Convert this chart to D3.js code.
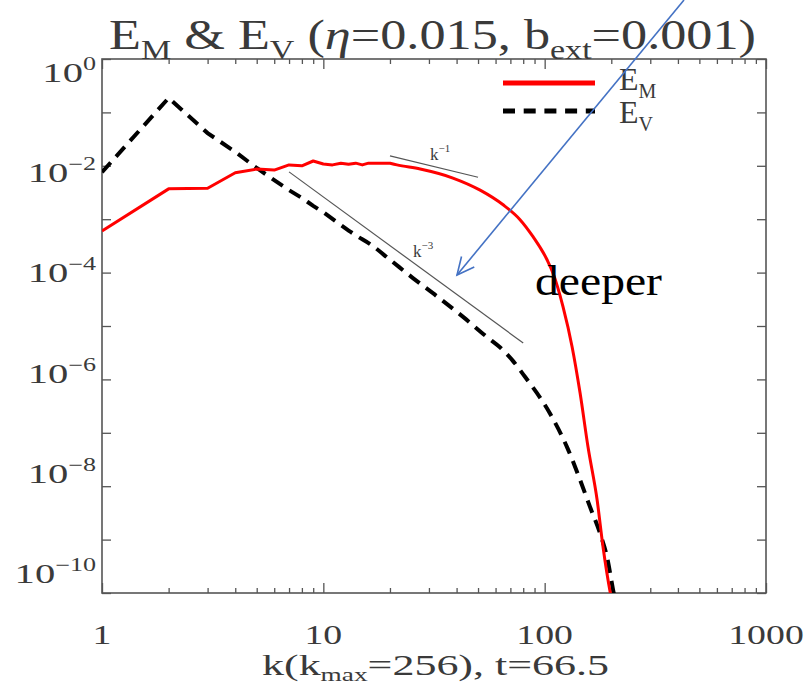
<!DOCTYPE html>
<html><head><meta charset="utf-8">
<script src="https://cdn.jsdelivr.net/npm/d3@7"></script>
<style>body{margin:0;background:#fff}svg{display:block}</style>
</head><body><svg id="c" width="807" height="689"></svg>
<script>
// ---- data ----
const kM = [1,2,3,4,5,6,7,8,9,10,11,12,13,14,15,16,18,20,21.5,27.4,38.5,51.1,64.9,77.4,88.6,102.5,109,121,133,144.5,157,172.6,183.6,197.6,205];
const EM = [6.0e-4,3.7e-3,3.8e-3,7.4e-3,8.7e-3,8.3e-3,1.04e-2,1.0e-2,1.23e-2,1.08e-2,1.04e-2,1.12e-2,1.07e-2,1.12e-2,1.04e-2,1.12e-2,1.12e-2,1.12e-2,1.04e-2,8.7e-3,5.9e-3,3.5e-3,1.86e-3,9.8e-4,4.7e-4,1.74e-4,9.8e-5,2.3e-5,4.1e-6,5.6e-7,5.4e-8,5.5e-9,7.2e-10,1.05e-10,5e-11];
const kV = [1,2,3,4,5,6,7,8,8.5,9,10,12,14,16.3,20,25.4,32.6,42.8,54.9,62.8,71.4,81.5,105.7,126.2,144.5,160.3,177.8,191.4,203.7,208];
const EV = [7.6e-3,0.186,4.1e-2,1.82e-2,9.1e-3,5.4e-3,3.5e-3,2.5e-3,2.1e-3,1.78e-3,1.35e-3,7.8e-4,5.0e-4,3.4e-4,1.74e-4,7.9e-5,3.6e-5,1.48e-5,6.2e-6,4.0e-6,2.3e-6,1.12e-6,2.3e-7,5.4e-8,1.32e-8,4.1e-9,1.32e-9,4.7e-10,1.15e-10,7.4e-11];
const refK1 = [20, 50], refV1 = [1.53e-2, 6.1e-3];
const refK3 = [7, 80], refV3 = [7.7e-3, 4.8e-6];
const xTicks = [1, 10, 100, 1000];
const yExps = [0, -2, -4, -6, -8, -10];

const svg = d3.select("#c");
const L = 102, R = 766, T = 59, B = 593;
const x = d3.scaleLog().domain([1, 1000]).range([L, R]);
const y = d3.scaleLog().domain([1e-10, 1]).range([B, T]);
const yLab = d3.scaleLinear().domain([0, -10]).range([82, 583]);
const AX = "#555", TX = "#3a3a3a";
const serif = "'Liberation Serif', 'Times New Roman', serif";

svg.append("clipPath").attr("id","clip").append("rect")
  .attr("x", L).attr("y", T).attr("width", R-L).attr("height", B-T);

// ticks
const minor = [];
for (let d = 1; d < 1000; d *= 10) for (let m = 2; m <= 9; m++) minor.push(d*m);
const gB = svg.append("g").attr("transform", `translate(0,${B})`)
  .call(d3.axisBottom(x).tickValues(xTicks).tickSizeInner(-10).tickSizeOuter(0).tickFormat(""));
const gBm = svg.append("g").attr("transform", `translate(0,${B})`)
  .call(d3.axisBottom(x).tickValues(minor).tickSizeInner(-5).tickSizeOuter(0).tickFormat(""));
const gT = svg.append("g").attr("transform", `translate(0,${T})`)
  .call(d3.axisTop(x).tickValues(xTicks).tickSizeInner(-10).tickSizeOuter(0).tickFormat(""));
const gTm = svg.append("g").attr("transform", `translate(0,${T})`)
  .call(d3.axisTop(x).tickValues(minor).tickSizeInner(-5).tickSizeOuter(0).tickFormat(""));
const decs = d3.range(0, 11).map(i => Math.pow(10, -i));
const gL = svg.append("g").attr("transform", `translate(${L},0)`)
  .call(d3.axisLeft(y).tickValues(decs).tickSizeInner(-9).tickSizeOuter(0).tickFormat(""));
const gR = svg.append("g").attr("transform", `translate(${R},0)`)
  .call(d3.axisRight(y).tickValues(decs).tickSizeInner(-9).tickSizeOuter(0).tickFormat(""));
[gB,gBm,gT,gTm,gL,gR].forEach(g => {
  g.select(".domain").remove();
  g.selectAll("line").attr("stroke", AX).attr("stroke-width", 1.3);
});
svg.append("rect").attr("x", L).attr("y", T).attr("width", R-L).attr("height", B-T)
  .attr("fill","none").attr("stroke", AX).attr("stroke-width", 1.6);

// y labels
yExps.forEach(e => {
  const t = svg.append("text").attr("transform", `translate(96,${yLab(e)}) scale(1.45,1)`)
    .attr("text-anchor","end").attr("font-family", serif).attr("font-size", 28).attr("fill", TX);
  t.append("tspan").text("10");
  t.append("tspan").attr("dy", -12).attr("font-size", 18).text(e === 0 ? "0" : "\u2212" + (-e));
});
// x labels
xTicks.forEach(v => {
  svg.append("text").attr("transform", `translate(${x(v)},644) scale(1.35,1)`)
    .attr("text-anchor","middle").attr("font-family", serif).attr("font-size", 28).attr("fill", TX)
    .text(v);
});
// x title
{
  const t = svg.append("text").attr("x", 262).attr("y", 675).attr("font-family", serif)
    .attr("font-size", 29).attr("fill", TX).attr("textLength", 347).attr("lengthAdjust","spacingAndGlyphs");
  t.append("tspan").text("k(k");
  t.append("tspan").attr("dy", 6).attr("font-size", 18).text("max");
  t.append("tspan").attr("dy", -6).text("=256), t=66.5");
}
// title
{
  const t = svg.append("text").attr("x", 109).attr("y", 49).attr("font-family", serif)
    .attr("font-size", 43).attr("fill", TX).attr("textLength", 647).attr("lengthAdjust","spacingAndGlyphs");
  t.append("tspan").text("E");
  t.append("tspan").attr("dy", 10).attr("font-size", 28).text("M");
  t.append("tspan").attr("dy", -10).text(" & E");
  t.append("tspan").attr("dy", 10).attr("font-size", 28).text("V");
  t.append("tspan").attr("dy", -10).text(" (");
  t.append("tspan").attr("font-style","italic").text("\u03b7");
  t.append("tspan").text("=0.015, b");
  t.append("tspan").attr("dy", 10).attr("font-size", 28).text("ext");
  t.append("tspan").attr("dy", -10).text("=0.001)");
}

// curves: straight segments at low k, smooth at high k
const lin = d3.line().x(d => x(d[0])).y(d => y(d[1]));
const smooth = d3.line().x(d => x(d[0])).y(d => y(d[1])).curve(d3.curveMonotoneX);
const both = (pts, kSplit) => {
  const i = pts.findIndex(p => p[0] >= kSplit);
  return lin(pts.slice(0, i + 1)) + smooth(pts.slice(i)).replace(/^M/, "L");
};
const plot = svg.append("g").attr("clip-path","url(#clip)");
plot.append("path").datum(d3.zip(refK1, refV1)).attr("d", lin)
  .attr("fill","none").attr("stroke","#555").attr("stroke-width",1.2);
plot.append("path").datum(d3.zip(refK3, refV3)).attr("d", lin)
  .attr("fill","none").attr("stroke","#555").attr("stroke-width",1.2);
plot.append("path").attr("d", both(d3.zip(kV, EV), 10))
  .attr("fill","none").attr("stroke","#000").attr("stroke-width",4).attr("stroke-dasharray","13,8");
plot.append("path").attr("d", both(d3.zip(kM, EM), 20))
  .attr("fill","none").attr("stroke","#f00").attr("stroke-width",3).attr("stroke-linejoin","round");

// slope labels
function slopeLabel(px, py, exp) {
  const t = svg.append("text").attr("x", px).attr("y", py).attr("font-family", serif)
    .attr("font-size", 17).attr("fill", TX);
  t.append("tspan").text("k");
  t.append("tspan").attr("dy", -8).attr("font-size", 11).text("\u2212" + exp);
}
slopeLabel(430, 160, 1);
slopeLabel(413, 257, 3);

// legend
svg.append("line").attr("x1",503).attr("x2",595).attr("y1",83).attr("y2",83)
  .attr("stroke","#f00").attr("stroke-width",5);
svg.append("line").attr("x1",503).attr("x2",595).attr("y1",111).attr("y2",111)
  .attr("stroke","#000").attr("stroke-width",5).attr("stroke-dasharray","12,8.7");
[["M",90],["V",123]].forEach(([s,by]) => {
  const t = svg.append("text").attr("x", 619).attr("y", by).attr("font-family", serif)
    .attr("font-size", 32).attr("fill", TX);
  t.append("tspan").text("E");
  t.append("tspan").attr("dy", 8).attr("font-size", 20).text(s);
});

// deeper annotation + arrow
svg.append("text").attr("x", 535).attr("y", 295).attr("font-family", serif)
  .attr("font-size", 42).attr("fill","#000").attr("textLength",127).attr("lengthAdjust","spacingAndGlyphs")
  .text("deeper");
const tip = [457, 275], start = [684, 0];
svg.append("line").attr("x1", start[0]).attr("y1", start[1]).attr("x2", tip[0]).attr("y2", tip[1])
  .attr("stroke","#4472C4").attr("stroke-width",1.6);
{
  const ang = Math.atan2(start[1]-tip[1], start[0]-tip[0]);
  const len = 19, a = 0.45;
  const p1 = [tip[0] + len*Math.cos(ang+a), tip[1] + len*Math.sin(ang+a)];
  const p2 = [tip[0] + len*Math.cos(ang-a), tip[1] + len*Math.sin(ang-a)];
  svg.append("path").attr("d", `M${p1}L${tip}L${p2}`).attr("fill","none")
    .attr("stroke","#4472C4").attr("stroke-width",1.6);
}
</script></body></html>
